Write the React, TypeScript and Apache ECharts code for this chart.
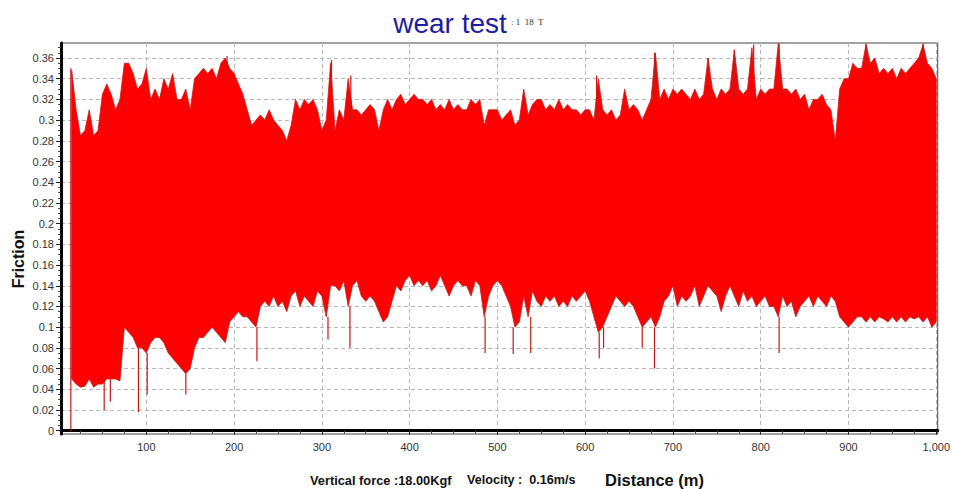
import React, { useEffect, useRef } from "react";
import * as echarts from "echarts";

// Friction envelope, one sample every 5 m, from 15 m to 1000 m
const upper: number[] = [
  0.348, 0.31, 0.285, 0.29, 0.31, 0.285, 0.29, 0.325, 0.335, 0.325,
  0.31, 0.32, 0.355, 0.355, 0.345, 0.33, 0.335, 0.35, 0.32, 0.33,
  0.32, 0.34, 0.33, 0.345, 0.32, 0.32, 0.33, 0.31, 0.34, 0.345,
  0.35, 0.345, 0.35, 0.34, 0.355, 0.36, 0.35, 0.345, 0.335, 0.325,
  0.31, 0.295, 0.3, 0.305, 0.3, 0.31, 0.3, 0.295, 0.29, 0.28,
  0.295, 0.32, 0.31, 0.32, 0.315, 0.32, 0.31, 0.29, 0.3, 0.355,
  0.29, 0.31, 0.3, 0.34, 0.31, 0.31, 0.305, 0.31, 0.315, 0.31,
  0.29, 0.31, 0.32, 0.31, 0.32, 0.325, 0.315, 0.32, 0.325, 0.32,
  0.32, 0.315, 0.32, 0.31, 0.315, 0.31, 0.32, 0.31, 0.315, 0.31,
  0.31, 0.32, 0.315, 0.32, 0.295, 0.31, 0.31, 0.31, 0.3, 0.305,
  0.31, 0.295, 0.3, 0.33, 0.305, 0.315, 0.32, 0.32, 0.31, 0.315,
  0.31, 0.32, 0.31, 0.315, 0.31, 0.31, 0.305, 0.31, 0.31, 0.3,
  0.34, 0.31, 0.305, 0.31, 0.3, 0.305, 0.33, 0.31, 0.315, 0.31,
  0.3, 0.31, 0.32, 0.365, 0.32, 0.33, 0.32, 0.33, 0.325, 0.33,
  0.325, 0.32, 0.33, 0.32, 0.325, 0.36, 0.33, 0.32, 0.33, 0.325,
  0.33, 0.368, 0.33, 0.325, 0.33, 0.37, 0.32, 0.33, 0.325, 0.33,
  0.33, 0.374, 0.33, 0.33, 0.325, 0.33, 0.32, 0.325, 0.31, 0.32,
  0.32, 0.325, 0.315, 0.31, 0.28, 0.33, 0.34, 0.34, 0.355, 0.35,
  0.35, 0.373, 0.355, 0.36, 0.345, 0.35, 0.345, 0.35, 0.34, 0.35,
  0.345, 0.35, 0.355, 0.36, 0.373, 0.355, 0.35, 0.34,
];
const lower: number[] = [
  0.05, 0.045, 0.042, 0.043, 0.05, 0.042, 0.045, 0.045, 0.05, 0.05,
  0.05, 0.048, 0.1, 0.095, 0.09, 0.08, 0.08, 0.075, 0.085, 0.09,
  0.09, 0.085, 0.075, 0.07, 0.065, 0.06, 0.055, 0.06, 0.08, 0.09,
  0.09, 0.095, 0.1, 0.095, 0.09, 0.085, 0.105, 0.11, 0.115, 0.11,
  0.11, 0.105, 0.1, 0.12, 0.125, 0.12, 0.13, 0.12, 0.125, 0.115,
  0.13, 0.135, 0.12, 0.13, 0.125, 0.12, 0.135, 0.13, 0.11, 0.14,
  0.14, 0.135, 0.145, 0.12, 0.14, 0.145, 0.13, 0.125, 0.13, 0.125,
  0.115, 0.105, 0.11, 0.125, 0.14, 0.135, 0.145, 0.15, 0.14, 0.145,
  0.14, 0.145, 0.135, 0.14, 0.15, 0.14, 0.13, 0.14, 0.145, 0.14,
  0.14, 0.13, 0.145, 0.14, 0.11, 0.13, 0.14, 0.145, 0.14, 0.13,
  0.12, 0.1, 0.105, 0.13, 0.11, 0.135, 0.125, 0.12, 0.13, 0.125,
  0.13, 0.12, 0.125, 0.12, 0.13, 0.125, 0.13, 0.135, 0.125, 0.11,
  0.095, 0.1, 0.11, 0.12, 0.13, 0.125, 0.12, 0.125, 0.12, 0.11,
  0.1, 0.105, 0.11, 0.1, 0.11, 0.125, 0.13, 0.14, 0.12, 0.13,
  0.125, 0.13, 0.14, 0.12, 0.13, 0.14, 0.135, 0.13, 0.115, 0.13,
  0.14, 0.13, 0.12, 0.135, 0.125, 0.13, 0.12, 0.125, 0.13, 0.12,
  0.12, 0.11, 0.13, 0.12, 0.125, 0.11, 0.12, 0.125, 0.13, 0.12,
  0.13, 0.125, 0.12, 0.13, 0.125, 0.11, 0.105, 0.1, 0.105, 0.11,
  0.11, 0.105, 0.11, 0.105, 0.11, 0.108, 0.105, 0.11, 0.105, 0.11,
  0.105, 0.11, 0.108, 0.11, 0.105, 0.11, 0.1, 0.105,
];
const firstDistance = 15;
const sampleStep = 5;

// Isolated needles: [distance, low, high]
const needles: number[][] = [
  [14, 0, 0.35],
  [52, 0.02, 0.05], [59, 0.028, 0.05], [91, 0.018, 0.08], [101, 0.035, 0.075],
  [145, 0.035, 0.055], [226, 0.067, 0.1], [307, 0.088, 0.11], [332, 0.08, 0.12],
  [486, 0.075, 0.11], [518, 0.074, 0.1], [538, 0.075, 0.11], [616, 0.07, 0.095],
  [621, 0.08, 0.1], [665, 0.08, 0.1], [679, 0.06, 0.1], [821, 0.075, 0.11],
  [192, 0.35, 0.362], [311, 0.3, 0.358], [333, 0.3, 0.343], [613, 0.3, 0.343],
  [679, 0.32, 0.365], [740, 0.32, 0.36], [770, 0.32, 0.368], [792, 0.32, 0.373],
  [821, 0.32, 0.374], [920, 0.35, 0.374], [985, 0.35, 0.374],
];

const xTicks = [100, 200, 300, 400, 500, 600, 700, 800, 900, 1000];
const yTicks = [0, 0.02, 0.04, 0.06, 0.08, 0.1, 0.12, 0.14, 0.16, 0.18, 0.2, 0.22, 0.24, 0.26, 0.28, 0.3, 0.32, 0.34, 0.36];

const xMin = 2.8;
const xMax = 1001.7;
const yMin = -0.0032;
const yMax = 0.3745;

const xMinor: number[] = [];
for (let v = 25; v < xMax; v += 25) if (v % 100 !== 0) xMinor.push(v);
const yMinor: number[] = [];
for (let k = 1; k * 0.005 < yMax; k++) if (k % 4 !== 0) yMinor.push(+(k * 0.005).toFixed(3));

export default function App() {
  const ref = useRef<HTMLDivElement>(null);
  useEffect(() => {
    if (!ref.current) return;
    const chart = echarts.init(ref.current, null, { renderer: "svg" });
    const samples = upper.map((h, i) => [firstDistance + sampleStep * i, lower[i], h]);
    const font = "Arial, 'Liberation Sans', sans-serif";
    chart.setOption({
      animation: false,
      backgroundColor: "#fff",
      grid: { left: 61, right: 11, top: 43, bottom: 55, show: true, borderColor: "#444", borderWidth: 1, backgroundColor: "#fff" },
      xAxis: [
        {
          type: "value", min: xMin, max: xMax,
          axisLine: { show: true, lineStyle: { color: "#000", width: 3 } },
          axisTick: { show: true, customValues: xTicks, length: 4, lineStyle: { color: "#222" } },
          axisLabel: {
            customValues: xTicks, color: "#333", fontSize: 11, fontFamily: font, margin: 7,
            formatter: (v: number) => v.toLocaleString("en-US"),
          },
          splitLine: { show: true, lineStyle: { type: [4, 3], color: "#b8b8b8", width: 1 } },
        },
        {
          type: "value", min: xMin, max: xMax, position: "bottom",
          axisLine: { show: false },
          axisTick: { show: true, customValues: xMinor, length: 3, lineStyle: { color: "#444" } },
          axisLabel: { show: false },
          splitLine: { show: false },
        },
      ],
      yAxis: [
        {
          type: "value", min: yMin, max: yMax,
          axisLine: { show: true, lineStyle: { color: "#000", width: 3 } },
          axisTick: { show: true, customValues: yTicks, length: 5, lineStyle: { color: "#222" } },
          axisLabel: {
            customValues: yTicks, color: "#333", fontSize: 11, fontFamily: font, margin: 7,
            formatter: (v: number) => String(+v.toFixed(2)),
          },
          splitLine: { show: true, lineStyle: { type: [4, 3], color: "#b8b8b8", width: 1 } },
        },
        {
          type: "value", min: yMin, max: yMax, position: "left",
          axisLine: { show: false },
          axisTick: { show: true, customValues: yMinor, length: 3, lineStyle: { color: "#444" } },
          axisLabel: { show: false },
          splitLine: { show: false },
        },
      ],
      series: [
        {
          type: "custom",
          xAxisIndex: 0, yAxisIndex: 0,
          clip: true,
          data: samples,
          encode: { x: 0, y: [1, 2] },
          renderItem: (params: any, api: any) => {
            if (params.dataIndex !== 0) return null;
            const top = samples.map((s) => api.coord([s[0], s[2]]));
            const bottom = samples.map((s) => api.coord([s[0], s[1]])).reverse();
            return {
              type: "polygon",
              shape: { points: top.concat(bottom) },
              style: { fill: "#ff0000", stroke: "#c41c1c", lineWidth: 0.8, lineJoin: "miter" },
            };
          },
        },
        {
          type: "custom",
          xAxisIndex: 0, yAxisIndex: 0,
          clip: true,
          data: needles,
          encode: { x: 0, y: [1, 2] },
          renderItem: (_p: any, api: any) => {
            const d = api.value(0), lo = api.value(1), hi = api.value(2);
            const a = api.coord([d, lo]);
            const b = api.coord([d, hi]);
            return {
              type: "line",
              shape: { x1: a[0], y1: a[1], x2: b[0], y2: b[1] },
              style: { stroke: "#c41818", lineWidth: 1.2 },
            };
          },
        },
      ],
      graphic: [
        { type: "text", x: 450, y: 23, style: { text: "wear test", font: `28px ${font}`, fill: "#1c1ca4", textAlign: "center", textVerticalAlign: "middle" } },
        { type: "text", x: 511, y: 22, style: { text: ": 1  18  T", font: "9px 'Liberation Serif', serif", fill: "#333", textAlign: "left", textVerticalAlign: "middle" } },
        { type: "text", x: 18, y: 259, rotation: Math.PI / 2, style: { text: "Friction", font: `bold 16px ${font}`, fill: "#111", textAlign: "center", textVerticalAlign: "middle" } },
        { type: "text", x: 310, y: 480, style: { text: "Vertical force :18.00Kgf", font: `bold 12.8px ${font}`, fill: "#111", textAlign: "left", textVerticalAlign: "middle" } },
        { type: "text", x: 467, y: 480, style: { text: "Velocity :  0.16m/s", font: `bold 12.6px ${font}`, fill: "#111", textAlign: "left", textVerticalAlign: "middle" } },
        { type: "text", x: 605, y: 480, style: { text: "Distance (m)", font: `bold 16.5px ${font}`, fill: "#111", textAlign: "left", textVerticalAlign: "middle" } },
      ],
    });
    return () => chart.dispose();
  }, []);
  return <div ref={ref} style={{ position: "fixed", left: 0, top: 0, width: 953, height: 489 }} />;
}
